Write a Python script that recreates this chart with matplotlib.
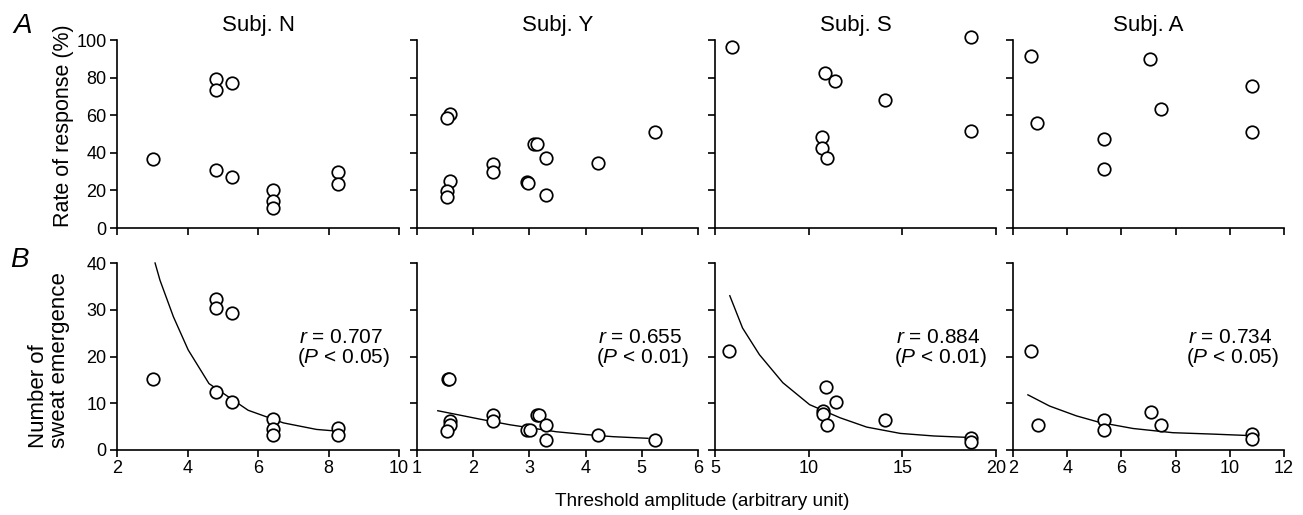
import matplotlib
matplotlib.use("Agg")
import matplotlib.pyplot as plt

plt.rcParams['font.family'] = ['Liberation Sans', 'DejaVu Sans']
plt.rcParams['mathtext.fontset'] = 'custom'
plt.rcParams['mathtext.rm'] = 'Liberation Sans'
plt.rcParams['mathtext.it'] = 'Liberation Sans:italic'

subjects = ["Subj. N", "Subj. Y", "Subj. S", "Subj. A"]

# Panel A: rate of response (%)
rate_x_N = [3.01, 4.80, 4.80, 5.27, 4.80, 5.27, 6.43, 6.43, 6.43, 8.27, 8.27]
rate_y_N = [36.7, 79.1, 73.4, 77.3, 30.7, 27.3, 20.0, 14.2, 10.5, 30.0, 23.2]
rate_x_Y = [1.58, 1.54, 1.58, 1.54, 1.54, 2.35, 2.35, 2.95, 2.98, 3.09, 3.13, 3.30, 3.30, 4.22, 5.24]
rate_y_Y = [60.7, 58.4, 25.2, 19.8, 16.3, 34.2, 29.6, 24.6, 23.7, 44.8, 44.8, 37.0, 17.5, 34.5, 51.3]
rate_x_S = [5.89, 10.89, 11.42, 14.10, 18.64, 18.64, 10.70, 10.70, 11.00]
rate_y_S = [96.4, 82.7, 78.3, 68.2, 101.6, 51.8, 48.6, 42.6, 37.3]
rate_x_A = [2.65, 2.90, 5.35, 5.35, 7.04, 7.45, 10.82, 10.82]
rate_y_A = [91.7, 55.8, 47.3, 31.3, 89.7, 63.2, 75.6, 50.8]

# Panel B: number of sweat emergence
sweat_x_N = [3.01, 4.80, 4.80, 5.27, 4.80, 5.27, 6.43, 6.43, 6.43, 8.27, 8.27]
sweat_y_N = [15.2, 32.2, 30.4, 29.4, 12.5, 10.3, 6.6, 4.4, 3.2, 4.6, 3.3]
sweat_x_Y = [1.55, 1.575, 1.58, 1.58, 1.54, 2.35, 2.35, 2.95, 3.01, 3.13, 3.17, 3.30, 3.30, 4.22, 5.24]
sweat_y_Y = [15.1, 15.1, 6.3, 5.4, 4.1, 7.5, 6.3, 4.3, 4.3, 7.5, 7.5, 5.4, 2.1, 3.2, 2.2]
sweat_x_S = [5.75, 10.91, 11.45, 10.74, 10.74, 11.00, 14.08, 18.69, 18.69]
sweat_y_S = [21.2, 13.5, 10.3, 8.3, 7.6, 5.3, 6.5, 2.6, 1.8]
sweat_x_A = [2.68, 2.92, 5.35, 5.35, 7.08, 7.45, 10.82, 10.82]
sweat_y_A = [21.2, 5.3, 6.4, 4.2, 8.1, 5.3, 3.4, 2.3]

# Regression curves
fit_x_N = [3.08, 3.22, 3.60, 4.02, 4.61, 5.72, 6.72, 7.66, 8.14]
fit_y_N = [40.0, 36.3, 28.5, 21.4, 14.2, 8.5, 5.8, 4.4, 4.1]
fit_x_Y = [1.37, 2.12, 2.65, 3.48, 4.01, 4.49, 5.11]
fit_y_Y = [8.4, 6.6, 5.4, 3.9, 3.3, 2.85, 2.5]
fit_x_S = [5.79, 6.47, 7.37, 8.62, 10.05, 11.67, 13.10, 14.89, 16.68, 18.47]
fit_y_S = [33.0, 26.1, 20.4, 14.4, 9.7, 6.9, 4.9, 3.55, 3.0, 2.7]
fit_x_A = [2.55, 3.35, 4.34, 5.20, 6.43, 7.90, 9.38, 10.67]
fit_y_A = [11.8, 9.4, 7.3, 5.9, 4.6, 3.7, 3.4, 3.1]

r_labels = ["0.707", "0.655", "0.884", "0.734"]
p_labels = ["0.05", "0.01", "0.01", "0.05"]

x_ticks = [[2, 4, 6, 8, 10], [1, 2, 3, 4, 5, 6], [5, 10, 15, 20], [2, 4, 6, 8, 10, 12]]
rate_ticks = [0, 20, 40, 60, 80, 100]
sweat_ticks = [0, 10, 20, 30, 40]

rate_x = [rate_x_N, rate_x_Y, rate_x_S, rate_x_A]
rate_y = [rate_y_N, rate_y_Y, rate_y_S, rate_y_A]
sweat_x = [sweat_x_N, sweat_x_Y, sweat_x_S, sweat_x_A]
sweat_y = [sweat_y_N, sweat_y_Y, sweat_y_S, sweat_y_A]
fit_x = [fit_x_N, fit_x_Y, fit_x_S, fit_x_A]
fit_y = [fit_y_N, fit_y_Y, fit_y_S, fit_y_A]

W, H = 1303, 515
fig = plt.figure(figsize=(W / 100, H / 100), dpi=100)

lefts = [117, 417, 715, 1013]
widths = [282, 281, 281, 271]
rowA = (40, 228)
rowB = (263, 450)


def make_ax(left, width, top, bottom):
    return fig.add_axes([left / W, 1 - bottom / H, width / W, (bottom - top) / H])


def style(ax):
    for s in ['top', 'right']:
        ax.spines[s].set_visible(False)
    for s in ['left', 'bottom']:
        ax.spines[s].set_linewidth(1.2)
    ax.tick_params(direction='out', length=5, width=1.2, labelsize=13, pad=2.5)


mk = dict(marker='o', ms=9, mfc='white', mec='black', mew=1.25, ls='none', clip_on=False, zorder=3)

for i in range(4):
    axA = make_ax(lefts[i], widths[i], *rowA)
    axB = make_ax(lefts[i], widths[i], *rowB)
    for ax in (axA, axB):
        style(ax)
        ax.set_xlim(x_ticks[i][0], x_ticks[i][-1])
        ax.set_xticks(x_ticks[i])
    axA.set_ylim(0, 100)
    axA.set_yticks(rate_ticks)
    axB.set_ylim(0, 40)
    axB.set_yticks(sweat_ticks)
    axA.set_xticklabels([])
    if i > 0:
        axA.set_yticklabels([])
        axB.set_yticklabels([])
    axA.plot(rate_x[i], rate_y[i], **mk)
    axB.plot(fit_x[i], fit_y[i], color='black', lw=1.0, zorder=2, clip_on=False)
    axB.plot(sweat_x[i], sweat_y[i], **mk)
    axA.set_title(subjects[i], fontsize=16, pad=6.5)
    axB.text(0.645, 0.571, "$r$ = " + r_labels[i], transform=axB.transAxes,
             ha='left', va='baseline', fontsize=15)
    axB.text(0.638, 0.465, "($P$ < " + p_labels[i] + ")", transform=axB.transAxes,
             ha='left', va='baseline', fontsize=15)

fig.text(13 / W, 1 - 33 / H, "A", fontsize=20, style='italic', ha='left', va='baseline')
fig.text(10 / W, 1 - 267 / H, "B", fontsize=20, style='italic', ha='left', va='baseline')
fig.text(64 / W, 1 - 227 / H, "Rate of response (%)", rotation=90, fontsize=15.5,
         ha='center', va='bottom')
fig.text(49 / W, 1 - 448 / H, "Number of\nsweat emergence", rotation=90, fontsize=16,
         ha='center', va='bottom', multialignment='left', linespacing=1.05)
fig.text(702 / W, 1 - 506 / H, "Threshold amplitude (arbitrary unit)", fontsize=13.7,
         ha='center', va='baseline')

fig.savefig("out.png", dpi=100)
